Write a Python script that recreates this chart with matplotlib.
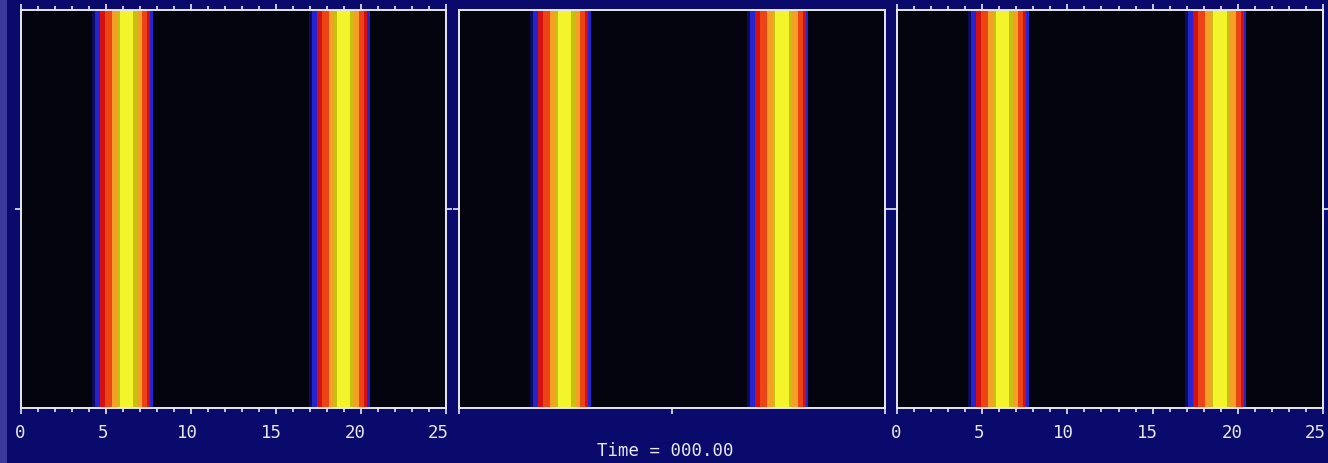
import numpy as np
import matplotlib
matplotlib.use("Agg")
import matplotlib.pyplot as plt
import matplotlib.transforms as mtransforms
from matplotlib.colors import ListedColormap, BoundaryNorm
from matplotlib.patches import Rectangle

# colour levels of the field (0 = background ... 7 = peak)
level_colors = ['#04040e', '#0c0c5a', '#2424d0', '#d41010', '#ec4414',
                '#f4a024', '#c8c010', '#f4f42c']

# band edges along x (data units) and the level between consecutive edges
band_edges = [0.0, 4.18, 4.35, 4.65, 4.94, 5.35, 5.65, 5.82, 6.59, 6.82,
              7.12, 7.41, 7.59, 7.76,
              16.93, 17.10, 17.40, 17.69, 18.10, 18.40, 18.57, 19.34, 19.57,
              19.87, 20.16, 20.34, 20.51, 25.0]
band_levels = [0, 1, 2, 3, 4, 5, 6, 7, 6, 5, 4, 3, 2,
               0, 1, 2, 3, 4, 5, 6, 7, 6, 5, 4, 3, 2, 0]

y_edges = [0.0, 2.0]
x_major = [0, 5, 10, 15, 20, 25]
x_minor = list(range(0, 26))
x_labels = ['0', '5', '10', '15', '20', '25']
label_shift = [-1, -3, -4, -5, -6, -8]   # px, labels sit a bit left of ticks
mid_ticks = [0, 12.5, 25]
time_text = 'Time = 000.00'

bg = '#0a0a6c'
fg = '#e8e8f0'
mono = 'DejaVu Sans Mono'

fig = plt.figure(figsize=(13.28, 4.64), dpi=100, facecolor=bg)
fig.patches.append(Rectangle((0, 0), 7 / 1328, 1, transform=fig.transFigure,
                             facecolor='#3a3a9c', edgecolor='none'))

cmap = ListedColormap(level_colors)
norm = BoundaryNorm(np.arange(-0.5, len(level_colors) + 0.5), cmap.N)
field = np.array([band_levels])

lefts = [21, 459, 897]
widths = [425, 426, 426]
bottom = 1 - 409 / 464
height = 398 / 464

for i, (l, w) in enumerate(zip(lefts, widths)):
    ax = fig.add_axes([l / 1328, bottom, w / 1328, height])
    ax.set_facecolor(level_colors[0])
    ax.pcolormesh(band_edges, y_edges, field, cmap=cmap, norm=norm,
                  shading='flat')
    ax.set_xlim(0, 25)
    ax.set_ylim(0, 2)
    for s in ax.spines.values():
        s.set_color(fg)
        s.set_linewidth(1.4)
    ax.set_yticks([1])
    ax.tick_params(axis='y', which='both', direction='out', left=True,
                   right=True, labelleft=False, length=4.3, width=1.2,
                   color=fg)
    if i == 1:
        ax.set_xticks(mid_ticks)
        ax.tick_params(axis='x', which='both', direction='out', bottom=True,
                       top=False, labelbottom=False, length=4.3, width=1.2,
                       color=fg)
    else:
        ax.set_xticks(x_major)
        ax.set_xticklabels(x_labels, family=mono, fontsize=12.5, color=fg)
        ax.set_xticks(x_minor, minor=True)
        ax.tick_params(axis='x', which='major', direction='out', bottom=True,
                       top=True, length=4.5, width=1.2, color=fg, pad=6)
        ax.tick_params(axis='x', which='minor', direction='out', bottom=True,
                       top=True, length=2.8, width=1.2, color=fg)
        for lab, dx in zip(ax.get_xticklabels(), label_shift):
            off = mtransforms.ScaledTranslation(dx / 100, 0, fig.dpi_scale_trans)
            lab.set_transform(lab.get_transform() + off)

fig.text(665 / 1328, 1 - 451 / 464, time_text, family=mono, fontsize=12.5,
         color=fg, ha='center', va='center')

fig.savefig('out.png', dpi=100, facecolor=bg)
